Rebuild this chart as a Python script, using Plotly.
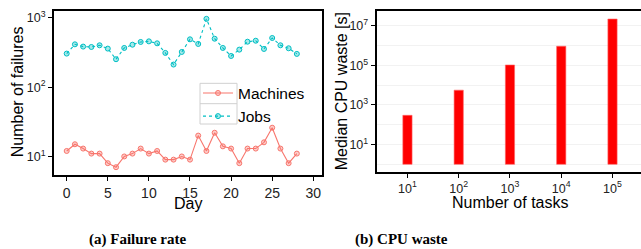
import plotly.graph_objects as go

days = list(range(29))
machines = [12, 15, 13, 11, 11, 8, 7, 10, 11, 13, 11, 12, 9, 9, 10, 9, 20, 12, 22, 14, 13, 8, 13, 13, 16, 26, 13, 8, 11]
jobs = [305, 415, 385, 380, 402, 360, 253, 368, 410, 449, 458, 429, 312, 212, 322, 490, 420, 968, 500, 368, 282, 348, 453, 468, 356, 512, 402, 364, 302]

task_labels = ["10<sup>1</sup>", "10<sup>2</sup>", "10<sup>3</sup>", "10<sup>4</sup>", "10<sup>5</sup>"]
cpu_waste = [300, 5600, 1.05e5, 9.3e5, 2.2e7]

RED = "#F8766D"
CYAN = "#00BFC4"
W, H = 641, 249

def px_x(v):
    return v / W

def px_y(v):
    return 1 - v / H

fig = go.Figure()
fig.add_trace(go.Scatter(
    x=days, y=machines, name="Machines", mode="lines+markers",
    line=dict(color=RED, width=1.1),
    marker=dict(symbol="circle", size=5, color="rgba(248,118,109,0.35)", line=dict(color=RED, width=1)),
    xaxis="x", yaxis="y"))
fig.add_trace(go.Scatter(
    x=days, y=jobs, name="Jobs", mode="lines+markers",
    line=dict(color=CYAN, width=1.1, dash="dot"),
    marker=dict(symbol="circle", size=5, color="rgba(0,191,196,0.35)", line=dict(color=CYAN, width=1)),
    xaxis="x", yaxis="y"))
fig.add_trace(go.Bar(
    x=list(range(len(cpu_waste))), y=[v - 1 for v in cpu_waste], base=1, width=0.18,
    marker=dict(color="#ff0000", line=dict(color="#ff6666", width=0.6)),
    showlegend=False, xaxis="x2", yaxis="y2"))

font = "Liberation Sans, Arial, sans-serif"

def axis_common(size):
    return dict(showline=True, linecolor="black", linewidth=2, ticks="outside",
                ticklen=4, tickcolor="black", tickwidth=1,
                tickfont=dict(family=font, size=size, color="#222"), zeroline=False)

fig.update_layout(
    width=W, height=H, margin=dict(l=0, r=0, t=0, b=0),
    plot_bgcolor="white", paper_bgcolor="white",
    xaxis=dict(domain=[px_x(54), px_x(322)], range=[-1.545, 31.06],
               tickvals=[0, 5, 10, 15, 20, 25, 30], showgrid=False, mirror=True,
               anchor="y", **axis_common(14)),
    yaxis=dict(domain=[px_y(174.3), px_y(9)], type="log", range=[0.734, 3.1],
               tickvals=[10, 100, 1000],
               ticktext=["10<sup>1</sup>", "10<sup>2</sup>", "10<sup>3</sup>"],
               showgrid=False, mirror=True, anchor="x", **axis_common(12.5)),
    xaxis2=dict(domain=[px_x(376.7), 1.0], range=[-0.6, 4.556],
                tickvals=list(range(len(task_labels))), ticktext=task_labels,
                showgrid=False, mirror=True, anchor="y2", **axis_common(12.5)),
    yaxis2=dict(domain=[px_y(171), px_y(9.3)], type="log", range=[-0.368, 7.737],
                tickvals=[10, 1e3, 1e5, 1e7],
                ticktext=["10<sup>1</sup>", "10<sup>3</sup>", "10<sup>5</sup>", "10<sup>7</sup>"],
                showgrid=True, gridcolor="#f2f2f2", gridwidth=1,
                minor=dict(tickvals=[1, 100, 1e4, 1e6], showgrid=True, gridcolor="#f2f2f2", ticks=""),
                mirror=False, anchor="x2", **axis_common(12.5)),
    legend=dict(x=px_x(198), y=px_y(75), xanchor="left", yanchor="top",
                borderwidth=0, bgcolor="rgba(0,0,0,0)",
                font=dict(family=font, size=15.5, color="black"),
                itemwidth=30, tracegroupgap=0),
    showlegend=True,
)

# grey key boxes of the legend
fig.add_shape(type="rect", xref="paper", yref="paper",
              x0=px_x(200), x1=px_x(237), y0=px_y(123), y1=px_y(82),
              line=dict(color="#d0d0d0", width=1), fillcolor="rgba(0,0,0,0)", layer="below")
fig.add_shape(type="line", xref="paper", yref="paper",
              x0=px_x(200), x1=px_x(237), y0=px_y(102.5), y1=px_y(102.5),
              line=dict(color="#d0d0d0", width=1), layer="below")

title_font = dict(family=font, size=16, color="black")
cap_font = dict(family="Liberation Serif, Times New Roman, serif", size=15, color="black")
anns = [
    dict(text="Day", x=px_x(188), y=px_y(203), font=title_font),
    dict(text="Number of tasks", x=px_x(510), y=px_y(202), font=title_font),
    dict(text="Number of failures", x=px_x(17), y=px_y(91), font=title_font, textangle=-90),
    dict(text="Median CPU waste [s]", x=px_x(341), y=px_y(90), font=title_font, textangle=-90),
    dict(text="<b>(a) Failure rate</b>", x=px_x(138), y=px_y(239), font=cap_font),
    dict(text="<b>(b) CPU waste</b>", x=px_x(401), y=px_y(239), font=cap_font),
]
for a in anns:
    fig.add_annotation(xref="paper", yref="paper", showarrow=False,
                       xanchor="center", yanchor="middle", **a)

fig.write_html("out.html", config={"displayModeBar": False},
               post_script="document.body.style.margin='0';document.body.style.padding='0';document.body.style.overflow='hidden';")
